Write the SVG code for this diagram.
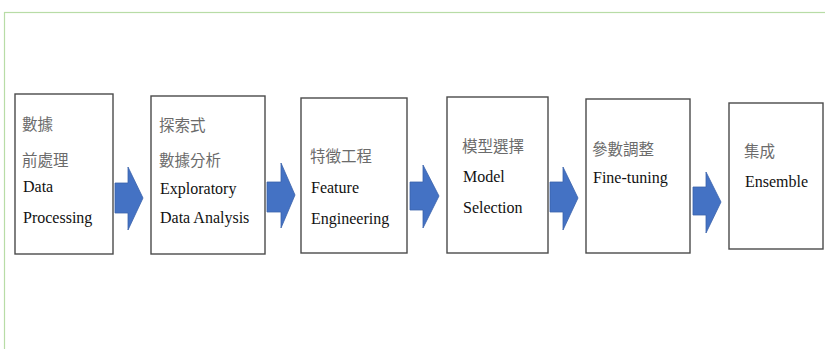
<svg xmlns="http://www.w3.org/2000/svg" width="825" height="349" viewBox="0 0 825 349">
<style>
.frame{fill:none;stroke:#b8dca6;stroke-width:1.2}
.box{fill:#fff;stroke:#4a4a4a;stroke-width:1.4}
.arrow{fill:#4472c4;stroke:#3a62ab;stroke-width:0.8}
.zh{font-family:"Noto Sans CJK TC","Noto Sans CJK SC",sans-serif;font-size:15.5px;fill:#6b6b6b}
.en{font-family:"Liberation Serif","Times New Roman",serif;font-size:16px;fill:#111}
</style>
<rect width="825" height="349" fill="#fff"/>
<rect class="frame" x="4.5" y="12.5" width="830" height="345"/>
<g id="connectors">
<polygon class="arrow" points="115,183 128,183 128,167 143,198 128,230 128,213 115,213"/>
<polygon class="arrow" points="267,182 281,182 281,163 295,195 281,228 281,212 267,212"/>
<polygon class="arrow" points="410,182 423,182 423,165 439,196 423,228 423,210 410,210"/>
<polygon class="arrow" points="550,182 563,182 563,167 578,198 563,230 563,212 550,212"/>
<polygon class="arrow" points="693,187 706,187 706,172 721,202 706,233 706,215 693,215"/>
</g>
<g id="n1">
<rect class="box" x="15" y="94" width="98" height="160"/>
<text class="zh" x="22" y="130">數據</text>
<text class="zh" x="22" y="166">前處理</text>
<text class="en" x="23" y="192">Data</text>
<text class="en" x="23" y="223">Processing</text>
</g>
<g id="n2">
<rect class="box" x="151" y="96" width="114" height="158"/>
<text class="zh" x="159" y="131">探索式</text>
<text class="zh" x="159" y="166">數據分析</text>
<text class="en" x="160" y="194">Exploratory</text>
<text class="en" x="160" y="223">Data Analysis</text>
</g>
<g id="n3">
<rect class="box" x="301" y="98" width="106" height="155"/>
<text class="zh" x="310" y="162">特徵工程</text>
<text class="en" x="311" y="193">Feature</text>
<text class="en" x="311" y="224">Engineering</text>
</g>
<g id="n4">
<rect class="box" x="447" y="97" width="101" height="156"/>
<text class="zh" x="462" y="152">模型選擇</text>
<text class="en" x="463" y="182">Model</text>
<text class="en" x="463" y="213">Selection</text>
</g>
<g id="n5">
<rect class="box" x="586" y="99" width="104" height="154"/>
<text class="zh" x="592" y="155">參數調整</text>
<text class="en" x="593" y="183">Fine-tuning</text>
</g>
<g id="n6">
<rect class="box" x="729" y="103" width="94" height="146"/>
<text class="zh" x="744" y="157">集成</text>
<text class="en" x="745" y="187">Ensemble</text>
</g>
</svg>
